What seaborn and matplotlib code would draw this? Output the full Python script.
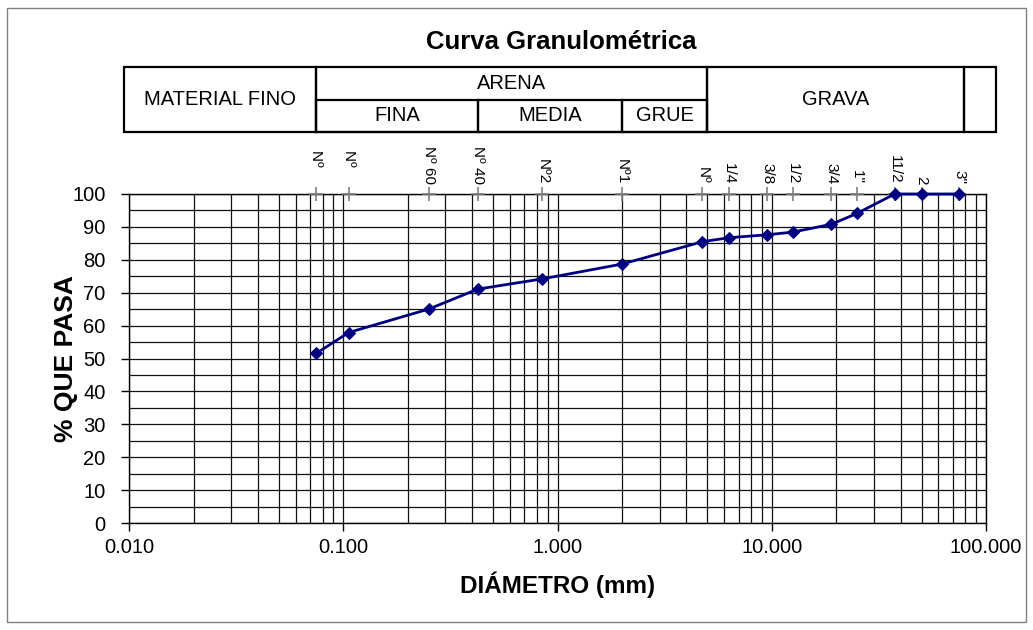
import numpy as np
import pandas as pd
import matplotlib
matplotlib.use("Agg")
import matplotlib.pyplot as plt
import matplotlib.transforms as mtransforms
from matplotlib.patches import Rectangle
from matplotlib.ticker import FixedLocator, FixedFormatter, LogLocator, MultipleLocator, NullFormatter
import seaborn as sns

# Sieve openings (mm) and percentage passing
diametro = [0.075, 0.106, 0.25, 0.425, 0.85, 2.0, 4.75, 6.3, 9.5, 12.5, 19.0, 25.0, 37.5, 50.0, 75.0]
pasa = [51.6, 57.9, 65.0, 71.1, 74.2, 78.7, 85.5, 86.7, 87.6, 88.4, 90.8, 94.1, 100.0, 100.0, 100.0]
tamiz = ["Nº    ", "Nº    ", "Nº 60", "Nº 40", "Nº2", "Nº1", "Nº", "1/4", "3/8", "1/2", "3/4", '1"', "11/2", "2", '3"']

# Classification bands of the soil
bandas_sup = ["MATERIAL FINO", "ARENA", "GRAVA", ""]
limites_sup = [0.0095, 0.075, 5.0, 79.0, 111.0]
bandas_arena = ["FINA", "MEDIA", "GRUE"]
limites_arena = [0.075, 0.425, 2.0, 5.0]

x_ticks = [0.01, 0.1, 1.0, 10.0, 100.0]
x_ticklabels = ["0.010", "0.100", "1.000", "10.000", "100.000"]

sns.set_theme(style="white")
plt.rcParams["font.family"] = ["Liberation Sans", "DejaVu Sans"]
plt.rcParams["text.color"] = "black"
plt.rcParams["axes.labelcolor"] = "black"

df = pd.DataFrame({"diametro": diametro, "pasa": pasa})

fig = plt.figure(figsize=(10.33, 6.3), dpi=100)
ax = fig.add_axes([0.1249, 0.1698, 0.8296, 0.5223])

ax.set_xscale("log")
ax.set_xlim(0.01, 100)
ax.set_ylim(0, 100)

# Grid: decades + 2..9 subdivisions, every 5 % vertically
ax.xaxis.set_major_locator(FixedLocator(x_ticks))
ax.xaxis.set_major_formatter(FixedFormatter(x_ticklabels))
ax.xaxis.set_minor_locator(LogLocator(base=10, subs=np.arange(2, 10)))
ax.xaxis.set_minor_formatter(NullFormatter())
ax.yaxis.set_major_locator(MultipleLocator(10))
ax.yaxis.set_minor_locator(MultipleLocator(5))
ax.grid(which="both", axis="both", color="#111111", linewidth=0.9)
ax.set_axisbelow(True)

for s in ax.spines.values():
    s.set_color("black")
    s.set_linewidth(1.0)
ax.tick_params(axis="both", which="major", direction="out", length=6, width=1,
               color="black", labelsize=14.5, labelcolor="black",
               bottom=True, left=True)
ax.tick_params(axis="y", which="major", pad=11)
ax.tick_params(axis="x", which="major", pad=5)
ax.tick_params(axis="both", which="minor", length=0)

# Sieve markers along the top edge
ax.plot(diametro, [100] * len(diametro), linestyle="none", marker="+",
        markersize=10, markeredgewidth=1.2, color="#7f7f7f", clip_on=False, zorder=3)

sns.lineplot(data=df, x="diametro", y="pasa", ax=ax, color="#000080", linewidth=2,
             marker="D", markersize=6, markeredgecolor="#000080", sort=False,
             estimator=None, clip_on=False, zorder=4)

ax.set_xlabel("DIÁMETRO (mm)", fontsize=17.5, fontweight="bold", labelpad=10)
ax.set_ylabel("% QUE PASA", fontsize=19, fontweight="bold", labelpad=-4)

# Rotated sieve names
trans_lbl = mtransforms.blended_transform_factory(ax.transData, ax.transAxes)
for d, t in zip(diametro, tamiz):
    ax.text(d, 1.03, t, transform=trans_lbl, rotation=-90, ha="center", va="bottom",
            fontsize=11, color="black", clip_on=False)

# Classification table above the plot
y0, ymid, y1 = 1.187, 1.287, 1.385
tr = trans_lbl
for lo, hi, name in zip(limites_sup[:-1], limites_sup[1:], bandas_sup):
    ax.add_patch(Rectangle((lo, y0), hi - lo, y1 - y0, transform=tr, fill=False,
                           edgecolor="black", linewidth=1.6, clip_on=False))
    if name == "ARENA":
        ax.text(np.sqrt(lo * hi), (ymid + y1) / 2, name, transform=tr, ha="center",
                va="center", fontsize=14.5, color="black", clip_on=False)
    elif name:
        ax.text(np.sqrt(lo * hi), (y0 + y1) / 2, name, transform=tr, ha="center",
                va="center", fontsize=14.5, color="black", clip_on=False)
for lo, hi, name in zip(limites_arena[:-1], limites_arena[1:], bandas_arena):
    ax.add_patch(Rectangle((lo, y0), hi - lo, ymid - y0, transform=tr, fill=False,
                           edgecolor="black", linewidth=1.6, clip_on=False))
    ax.text(np.sqrt(lo * hi), (y0 + ymid) / 2, name, transform=tr, ha="center",
            va="center", fontsize=14.5, color="black", clip_on=False)

fig.text(0.543, 0.934, "Curva Granulométrica", ha="center", va="center",
         fontsize=18.5, fontweight="bold", color="black")

# Outer frame of the chart
fig.add_artist(Rectangle((0.0068, 0.0127), 0.9865, 0.9746, transform=fig.transFigure,
                         fill=False, edgecolor="#808080", linewidth=1.0))

fig.savefig("out.png", dpi=100, facecolor="white")
